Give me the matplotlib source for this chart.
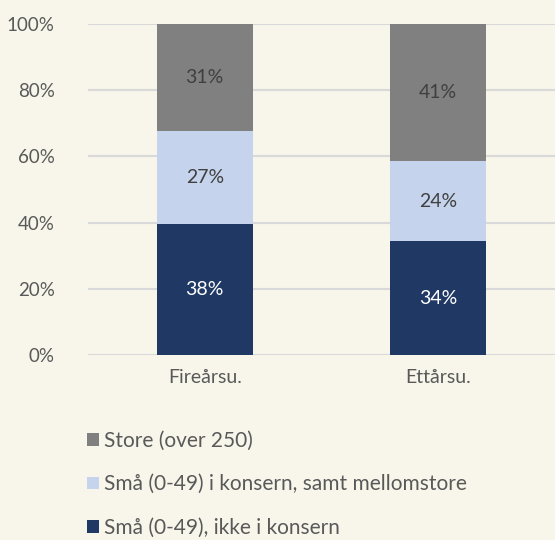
import matplotlib.pyplot as plt
import numpy as np
from matplotlib.patches import Patch

plt.rcParams["font.family"] = ["Lato", "DejaVu Sans"]

categories = ["Fireårsu.", "Ettårsu."]
series_names = [
    "Små (0-49), ikke i konsern",
    "Små (0-49) i konsern, samt mellomstore",
    "Store (over 250)",
]
values = [
    [38, 34],
    [27, 24],
    [31, 41],
]
colors = ["#203864", "#C5D4EC", "#808080"]
label_colors = ["white", "#404040", "#404040"]

bg = "#F8F6EA"
fig = plt.figure(figsize=(5.55, 5.40), dpi=100, facecolor=bg)
ax = fig.add_axes([88 / 555, 1 - 355 / 540, 467 / 555, 331 / 540], facecolor=bg)

vals = np.array(values, dtype=float)
shares = vals / vals.sum(axis=0) * 100
x = np.arange(len(categories))
bottom = np.zeros(len(categories))
for i, name in enumerate(series_names):
    ax.bar(x, shares[i], 0.41, bottom=bottom, color=colors[i], zorder=3)
    for j in range(len(categories)):
        ax.text(x[j], bottom[j] + shares[i][j] / 2, f"{values[i][j]}%",
                ha="center", va="center", fontsize=14, color=label_colors[i], zorder=4)
    bottom += shares[i]

ax.set_xlim(-0.5, len(categories) - 0.5)
ax.set_ylim(0, 100)
ax.set_yticks(np.arange(0, 101, 20))
ax.set_yticklabels([f"{t}%" for t in range(0, 101, 20)])
ax.set_xticks(x)
ax.set_xticklabels(categories)
ax.yaxis.grid(True, color="#D9D9D9", lw=1.5, zorder=0)
ax.tick_params(length=0, labelsize=14, labelcolor="#595959")
ax.tick_params(axis="y", labelsize=13.5, pad=24)
ax.tick_params(axis="x", pad=10)
for s in ax.spines.values():
    s.set_visible(False)

handles = [Patch(facecolor=colors[i]) for i in reversed(range(len(series_names)))]
labels = list(reversed(series_names))
fig.legend(handles, labels, loc="upper left", bbox_to_anchor=(87 / 555, 1 - 431 / 540),
           frameon=False, fontsize=15, labelcolor="#595959", handlelength=0.58,
           handleheight=0.58, handletextpad=0.25, labelspacing=1.12,
           borderpad=0, borderaxespad=0)

fig.savefig("out.png", dpi=100, facecolor=bg)
